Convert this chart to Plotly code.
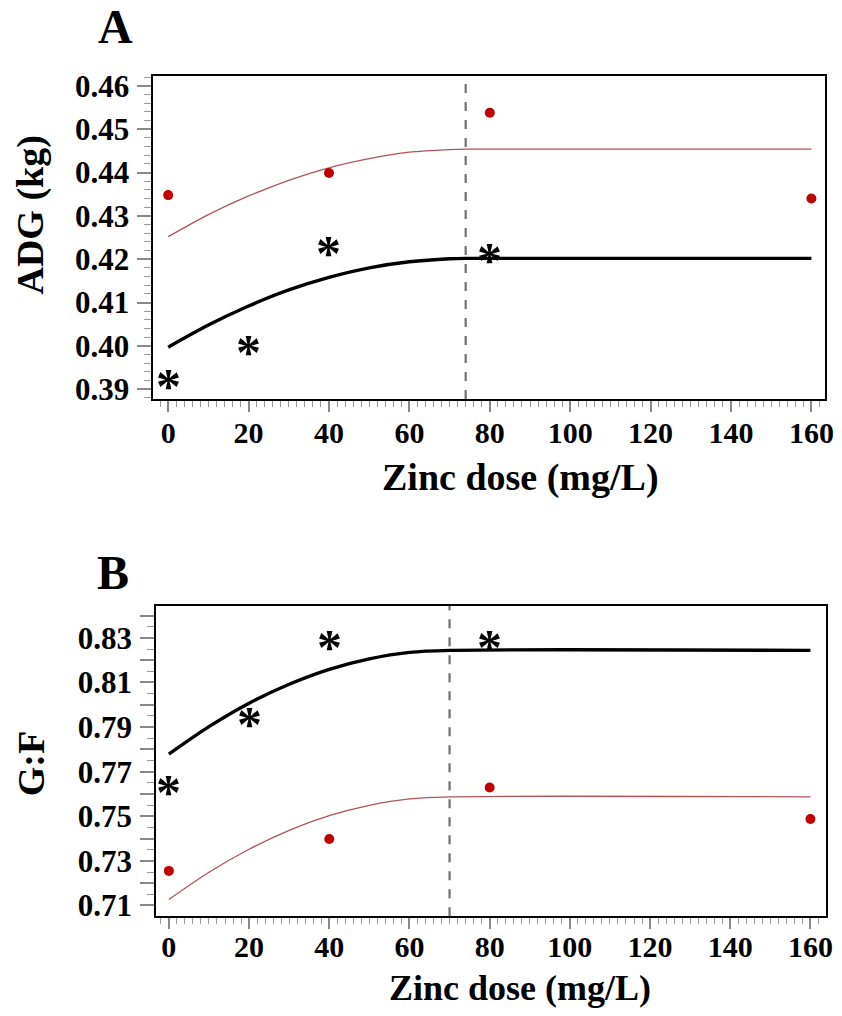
import plotly.graph_objects as go

# ---------------- data ----------------
dot_doses = [0, 40, 80, 160]
star_doses = [0, 20, 40, 80]

# Panel A: ADG (kg)
adg_star = [0.3926, 0.4005, 0.4232, 0.4217]          # black asterisks
adg_dot = [0.4348, 0.4399, 0.4538, 0.4340]            # red dots
curve_x = [0, 10, 20, 30, 40, 50, 60, 70, 74, 160]
adg_black_curve = [0.3997, 0.4048, 0.4092, 0.4129, 0.4158, 0.4180, 0.4194, 0.4201, 0.4202, 0.4202]
adg_red_curve = [0.4252, 0.4303, 0.4346, 0.4382, 0.4411, 0.4432, 0.4447, 0.4453, 0.4454, 0.4454]
adg_break = 74

# Panel B: G:F
gf_star = [0.7646, 0.7949, 0.8296, 0.8296]
gf_dot = [0.7255, 0.7398, 0.7629, 0.7488]
curve_x_b = [0, 10, 20, 30, 40, 50, 60, 70, 160]
gf_black_curve = [0.7779, 0.7902, 0.8007, 0.8092, 0.8159, 0.8206, 0.8235, 0.8244, 0.8244]
gf_red_curve = [0.7127, 0.7249, 0.7352, 0.7437, 0.7503, 0.7549, 0.7578, 0.7587, 0.7587]
gf_break = 70

x_ticks = [0, 20, 40, 60, 80, 100, 120, 140, 160]
adg_ticks = [0.39, 0.40, 0.41, 0.42, 0.43, 0.44, 0.45, 0.46]
gf_ticks = [0.71, 0.72, 0.73, 0.74, 0.75, 0.76, 0.77, 0.78, 0.79, 0.80, 0.81, 0.82, 0.83, 0.84]
gf_labels = ["0.71", "", "0.73", "", "0.75", "", "0.77", "", "0.79", "", "0.81", "", "0.83", ""]

# ---------------- style ----------------
W, H = 842, 1016
SERIF = "Liberation Serif"
RED_DOT = "#c00000"
RED_LINE = "#b05458"

fig = go.Figure()

def add_panel(xa, ya, cx, black, red, sy, dy):
    fig.add_trace(go.Scatter(x=cx, y=red, mode="lines",
                             line=dict(color=RED_LINE, width=1.3, shape="spline", smoothing=0.8),
                             xaxis=xa, yaxis=ya, showlegend=False, hoverinfo="skip"))
    fig.add_trace(go.Scatter(x=cx, y=black, mode="lines",
                             line=dict(color="black", width=3.4, shape="spline", smoothing=0.8),
                             xaxis=xa, yaxis=ya, showlegend=False, hoverinfo="skip"))
    fig.add_trace(go.Scatter(x=dot_doses, y=dy, mode="markers", marker=dict(color=RED_DOT, size=10),
                             xaxis=xa, yaxis=ya, showlegend=False))
    for x, y in zip(star_doses, sy):
        fig.add_annotation(x=x, y=y, xref=xa, yref=ya, text="*", showarrow=False,
                           xanchor="center", yanchor="middle", yshift=-8,
                           font=dict(family=SERIF, size=50, color="black", weight="bold"))

add_panel("x", "y", curve_x, adg_black_curve, adg_red_curve, adg_star, adg_dot)
add_panel("x2", "y2", curve_x_b, gf_black_curve, gf_red_curve, gf_star, gf_dot)

xtickfont = dict(family=SERIF, size=30, color="black", weight="bold")
ytickfont = dict(family=SERIF, size=31, color="black", weight="bold")

def xaxis(domain, rng, anchor, standoff):
    return dict(domain=domain, range=rng, anchor=anchor, showline=True, linecolor="black", linewidth=2,
                mirror=True, showgrid=False, zeroline=False,
                tickmode="array", tickvals=x_ticks, ticks="outside", ticklen=11, tickwidth=1.5, tickcolor="#888",
                minor=dict(dtick=2, tick0=0, ticks="outside", ticklen=6, tickwidth=1, tickcolor="#999", showgrid=False),
                tickfont=xtickfont, ticklabelstandoff=standoff, ticklabeloverflow="allow")

def yaxis(domain, rng, anchor, tv, tt, mdt):
    return dict(domain=domain, range=rng, anchor=anchor, showline=True, linecolor="black", linewidth=2,
                mirror=True, showgrid=False, zeroline=False,
                tickmode="array", tickvals=tv, ticktext=tt, ticks="outside", ticklen=14, tickwidth=1.5, tickcolor="#888",
                minor=dict(dtick=mdt, ticks="outside", ticklen=7, tickwidth=1, tickcolor="#999", showgrid=False),
                tickfont=ytickfont, ticklabelstandoff=2)

fig.update_layout(
    width=W, height=H, margin=dict(l=0, r=0, t=0, b=0),
    paper_bgcolor="white", plot_bgcolor="white",
    xaxis=xaxis([155 / W, 834 / W], [-3.69, 163.4], "y", -5),
    yaxis=yaxis([1 - 398 / H, 1 - 70 / H], [0.3877, 0.4623], "x", adg_ticks,
                [f"{v:.2f}" for v in adg_ticks], 0.002),
    xaxis2=xaxis([158 / W, 835 / W], [-3.13, 163.9], "y2", -8),
    yaxis2=yaxis([1 - 923 / H, 1 - 608 / H], [0.7051, 0.8443], "x2", gf_ticks, gf_labels, 0.005),
)

for xr, yr, b in (("x", "y", adg_break), ("x2", "y2", gf_break)):
    fig.add_shape(type="line", xref=xr, yref=f"{yr} domain", x0=b, x1=b, y0=0, y1=1,
                  line=dict(color="#707070", width=2.2, dash="dash"))

def label(text, px, py, size, angle=0):
    fig.add_annotation(text=text, xref="paper", yref="paper", x=px / W, y=1 - py / H, showarrow=False,
                       xanchor="center", yanchor="middle", textangle=angle,
                       font=dict(family=SERIF, size=size, color="black", weight="bold"))

# panel letters
label("A", 117, 20, 48)
label("B", 114, 574, 48)
# axis titles
label("Zinc dose (mg/L)", 526, 478, 38)
label("Zinc dose (mg/L)", 526, 996, 36)
label("ADG (kg)", 31, 211, 38, -90)
label("G:F", 31, 768, 38, -90)

fig.write_html("out.html")
